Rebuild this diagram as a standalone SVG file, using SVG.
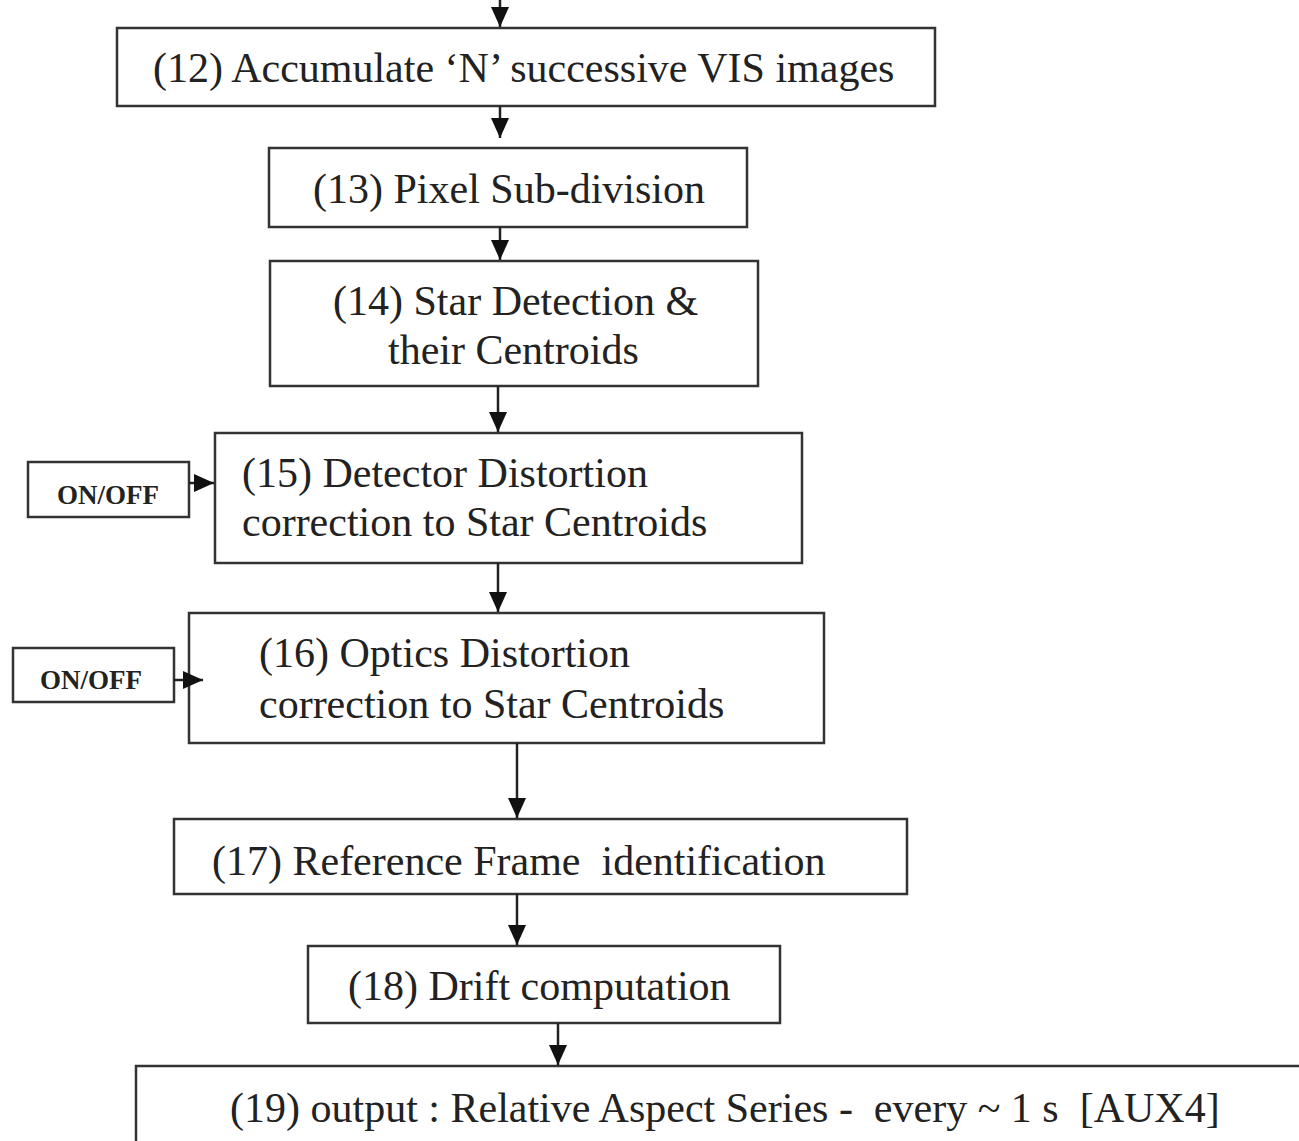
<svg xmlns="http://www.w3.org/2000/svg" width="1299" height="1141" viewBox="0 0 1299 1141">
<style>
.box{fill:#fff;stroke:#333;stroke-width:2.5}
.t{font-family:"Liberation Serif","Times New Roman",serif;font-size:42px;fill:#222}
.s{font-family:"Liberation Serif","Times New Roman",serif;font-size:27px;font-weight:bold;fill:#222}
.c{stroke:#222;stroke-width:2.5;fill:none;marker-end:url(#ah)}
</style>
<defs>
<marker id="ah" markerUnits="userSpaceOnUse" markerWidth="20" markerHeight="20" viewBox="0 0 20 18" refX="20" refY="9" orient="auto">
<path d="M0,0 L20,9 L0,18 Z" fill="#111"/>
</marker>
</defs>
<rect width="1299" height="1141" fill="#fff"/>
<g id="n12"><rect class="box" x="117" y="28" width="818" height="78"/><text class="t" x="153" y="82">(12) Accumulate ‘N’ successive VIS images</text></g>
<g id="n13"><rect class="box" x="269" y="148" width="478" height="79"/><text class="t" x="313" y="203">(13) Pixel Sub-division</text></g>
<g id="n14"><rect class="box" x="270" y="261" width="488" height="125"/><text class="t" x="333" y="315">(14) Star Detection &amp;</text><text class="t" x="388" y="364">their Centroids</text></g>
<g id="n15"><rect class="box" x="215" y="433" width="587" height="130"/><text class="t" x="242" y="487">(15) Detector Distortion</text><text class="t" x="242" y="536">correction to Star Centroids</text></g>
<g id="onoff1"><rect class="box" x="28" y="462" width="161" height="55"/><text class="s" x="57" y="504">ON/OFF</text></g>
<g id="n16"><rect class="box" x="189" y="613" width="635" height="130"/><text class="t" x="259" y="667">(16) Optics Distortion</text><text class="t" x="259" y="718">correction to Star Centroids</text></g>
<g id="onoff2"><rect class="box" x="13" y="648" width="161" height="54"/><text class="s" x="40" y="689">ON/OFF</text></g>
<g id="n17"><rect class="box" x="174" y="819" width="733" height="75"/><text class="t" x="212" y="875" xml:space="preserve">(17) Reference Frame  identification</text></g>
<g id="n18"><rect class="box" x="308" y="946" width="472" height="77"/><text class="t" x="348" y="1000">(18) Drift computation</text></g>
<g id="n19"><rect class="box" x="136" y="1066" width="1200" height="120"/><text class="t" x="230" y="1122" xml:space="preserve">(19) output : Relative Aspect Series -  every ~ 1 s  [AUX4]</text></g>
<g id="connectors">
<line class="c" x1="500" y1="0" x2="500" y2="27"/>
<line class="c" x1="500" y1="106" x2="500" y2="138"/>
<line class="c" x1="500" y1="227" x2="500" y2="260"/>
<line class="c" x1="498" y1="386" x2="498" y2="432"/>
<line class="c" x1="189" y1="483" x2="214" y2="483"/>
<line class="c" x1="498" y1="563" x2="498" y2="612"/>
<line class="c" x1="174" y1="680" x2="203" y2="680"/>
<line class="c" x1="517" y1="743" x2="517" y2="818"/>
<line class="c" x1="517" y1="894" x2="517" y2="945"/>
<line class="c" x1="558" y1="1023" x2="558" y2="1065"/>
</g>
</svg>
